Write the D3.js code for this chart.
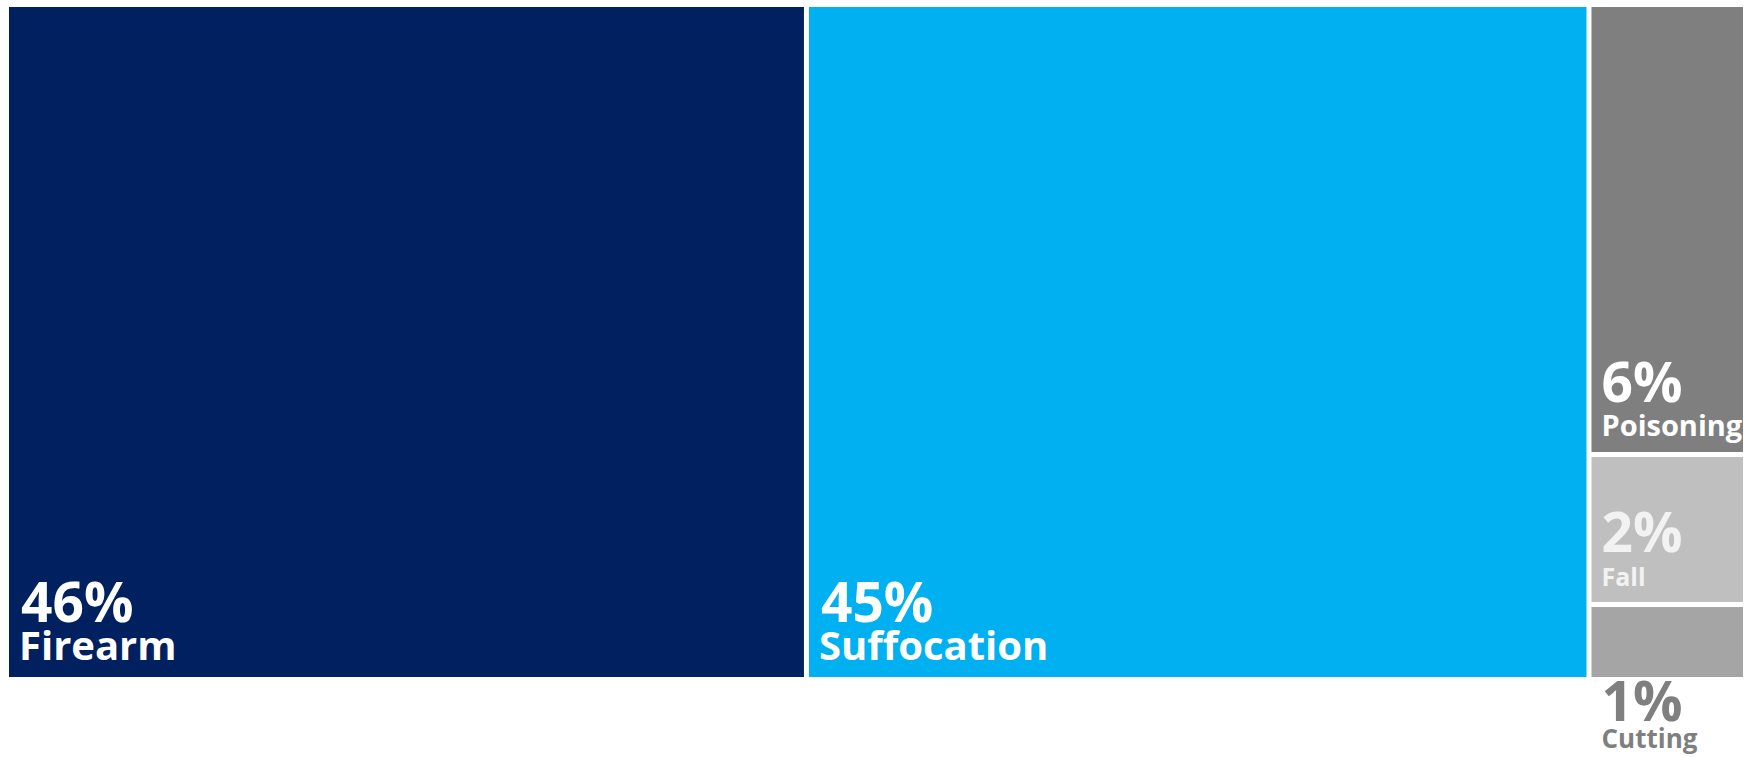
<!DOCTYPE html>
<html>
<head>
<meta charset="utf-8">
<script src="https://cdn.jsdelivr.net/npm/d3@7"></script>
<style>
  html, body { margin: 0; padding: 0; background: #ffffff; }
  svg { display: block; }
  text { font-family: "Open Sans", "DejaVu Sans", sans-serif; font-weight: 700; }
</style>
</head>
<body>
<svg id="chart" width="1745" height="757"></svg>
<script>
// Share of deaths by mechanism (percent)
const categories = ["Firearm", "Suffocation", "Poisoning", "Fall", "Cutting"];
const shares = [46, 45, 6, 2, 1];
const fills = ["#002060", "#00B0F0", "#7F7F7F", "#BFBFBF", "#A5A5A5"];
const labelColors = ["#FFFFFF", "#FFFFFF", "#FFFFFF", "#F2F2F2", "#7F7F7F"];
const nameSizes = [40, 40, 29, 25, 26];

const W = 1745, H = 757;
const margin = { left: 9, top: 7, right: 2, bottom: 80 };

const svg = d3.select("#chart");

const root = d3.hierarchy({
  children: categories.map((name, i) => ({ name, value: shares[i], i }))
}).sum(d => d.value || 0);

d3.treemap()
  .tile(d3.treemapSquarify)
  .size([W - margin.left - margin.right, H - margin.top - margin.bottom])
  .paddingInner(5)
  .round(false)(root);

const g = svg.append("g").attr("transform", `translate(${margin.left},${margin.top})`);

const cells = g.selectAll("g.cell")
  .data(root.leaves())
  .join("g")
  .attr("class", "cell");

cells.append("rect")
  .attr("x", d => d.x0)
  .attr("y", d => d.y0)
  .attr("width", d => d.x1 - d.x0)
  .attr("height", d => d.y1 - d.y0)
  .attr("fill", d => fills[d.data.i]);

// Wide tiles carry larger names; a tile too short for its text is labelled underneath
const big = d => (d.x1 - d.x0) > 400;
const tooSmall = d => (d.y1 - d.y0) < 100 && !big(d);

cells.append("text")
  .attr("x", d => d.x0 + (big(d) ? 12 : 10))
  .attr("y", d => tooSmall(d) ? d.y1 + 44 : d.y1 - (big(d) ? 55 : 50))
  .attr("font-size", 55)
  .attr("fill", d => labelColors[d.data.i])
  .text(d => d3.format(".0f")(d.data.value) + "%");

cells.append("text")
  .attr("x", d => d.x0 + 10)
  .attr("y", d => tooSmall(d) ? d.y1 + 71 : d.y1 - (big(d) ? 17 : 16))
  .attr("font-size", d => nameSizes[d.data.i])
  .attr("fill", d => labelColors[d.data.i])
  .text(d => d.data.name);
</script>
</body>
</html>
